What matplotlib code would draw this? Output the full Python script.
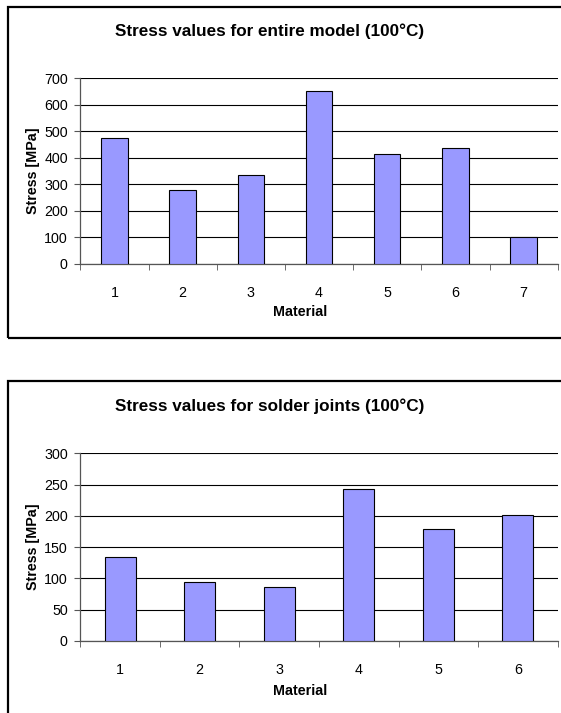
import numpy as np
import matplotlib
matplotlib.use("Agg")
import matplotlib.pyplot as plt
from matplotlib.patches import Rectangle

plt.rcParams["font.family"] = ["Liberation Sans", "DejaVu Sans"]

# stress per material, whole model and solder joints only (MPa)
model_materials = [1, 2, 3, 4, 5, 6, 7]
model_stress = [475, 280, 335, 652, 413, 435, 100]
solder_materials = [1, 2, 3, 4, 5, 6]
solder_stress = [134, 95, 87, 243, 179, 202]

W, H = 561, 713
fig = plt.figure(figsize=(W / 100, H / 100), dpi=100, facecolor="white")


def px(x0, y0, x1, y1):
    """pixel box (top-left origin) -> figure rect"""
    return [x0 / W, 1 - y1 / H, (x1 - x0) / W, (y1 - y0) / H]


def panel(rect, cats, vals, ymax, step, title, title_y, label_y, frame):
    ax = fig.add_axes(rect)
    x = np.arange(1, len(cats) + 1)
    ax.bar(x, vals, width=0.39, color="#9999ff", edgecolor="black", linewidth=0.8, zorder=3)
    ax.set_xlim(0.5, len(cats) + 0.5)
    ax.set_ylim(0, ymax)
    ax.set_yticks(np.arange(0, ymax + 1, step))
    ax.set_xticks(x)
    ax.set_xticklabels([str(c) for c in cats])
    ax.set_xticks(np.arange(0.5, len(cats) + 1), minor=True)
    ax.tick_params(axis="x", which="major", length=0, pad=16, labelsize=10.3)
    ax.tick_params(axis="x", which="minor", length=4, color="#555555", direction="out")
    ax.tick_params(axis="y", length=4, color="#555555", pad=5, labelsize=10.3)
    ax.grid(axis="y", color="black", linewidth=0.8, zorder=0)
    ax.set_axisbelow(True)
    for s in ("top", "right"):
        ax.spines[s].set_visible(False)
    for s in ("left", "bottom"):
        ax.spines[s].set_color("#555555")
        ax.spines[s].set_linewidth(0.9)
    ax.set_ylabel("Stress [MPa]", fontsize=10.3, fontweight="bold", labelpad=3)
    fig.text(270 / W, 1 - title_y / H, title, ha="center", va="center",
             fontsize=12.3, fontweight="bold")
    fig.text(300 / W, 1 - label_y / H, "Material", ha="center", va="center",
             fontsize=10.3, fontweight="bold")
    fig.patches.append(Rectangle((frame[0], frame[1]), frame[2], frame[3],
                                 transform=fig.transFigure, fill=False,
                                 edgecolor="black", linewidth=1.6))
    return ax


panel(px(80.3, 78.3, 557.7, 263.7), model_materials, model_stress, 700, 100,
      "Stress values for entire model (100°C)", 31.7, 311.7, px(7.5, 7, 570, 338))
panel(px(80.3, 453.3, 557.7, 641), solder_materials, solder_stress, 300, 50,
      "Stress values for solder joints (100°C)", 406, 690.7, px(7.5, 381, 570, 730))

fig.savefig("out.png", dpi=100, facecolor="white")
